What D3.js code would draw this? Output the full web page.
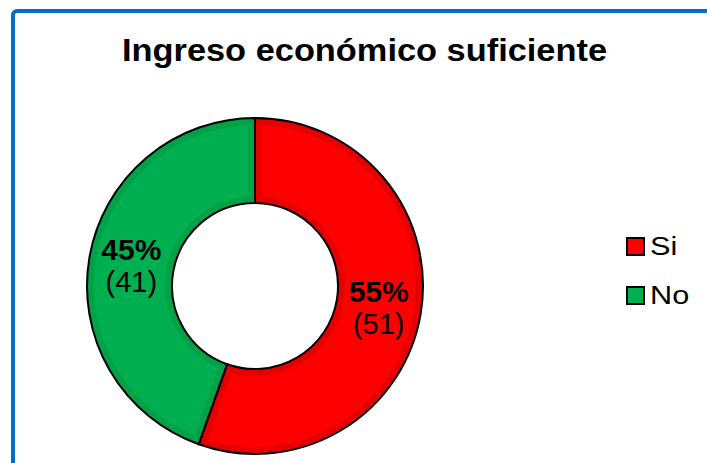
<!DOCTYPE html>
<html>
<head>
<meta charset="utf-8">
<script src="https://cdn.jsdelivr.net/npm/d3@7"></script>
<style>
  body { margin: 0; background: #fff; }
  svg { display: block; font-family: "Liberation Sans", Arial, sans-serif; }
</style>
</head>
<body>
<script>
// chart data
const categories = ["Si", "No"];
const counts = [51, 41];
const percents = ["55%", "45%"];
const fills = ["#ff0000", "#00b050"];
const edges = ["#e40000", "#00a147"];

const width = 707, height = 463;
const cx = 255, cy = 286;
const outerR = 168, innerR = 83;

const svg = d3.select("body").append("svg")
    .attr("width", width)
    .attr("height", height);

// blue frame (only top and left edges visible)
svg.append("rect")
    .attr("x", 13)
    .attr("y", 11)
    .attr("width", 760)
    .attr("height", 520)
    .attr("rx", 4)
    .attr("fill", "#fff")
    .attr("stroke", "#0070c0")
    .attr("stroke-width", 4);

svg.append("text")
    .attr("x", 122)
    .attr("y", 61)
    .attr("textLength", 485)
    .attr("lengthAdjust", "spacingAndGlyphs")
    .style("font-size", "31px")
    .style("font-weight", "bold")
    .text("Ingreso económico suficiente");

const data = categories.map((c, i) => ({ name: c, value: counts[i], pct: percents[i], fill: fills[i], edge: edges[i] }));

const pie = d3.pie().sort(null).value(d => d.value);
const arcs = pie(data);

const arc = d3.arc().innerRadius(innerR).outerRadius(outerR);
const innerArc = d3.arc().innerRadius(innerR + 7).outerRadius(outerR - 7)
    .padRadius(100).padAngle(0.14);

const g = svg.append("g").attr("transform", `translate(${cx},${cy})`);

// slice with darker rim
g.selectAll("path.slice")
    .data(arcs)
    .enter().append("path")
    .attr("class", "slice")
    .attr("d", arc)
    .attr("fill", d => d.data.edge);

g.selectAll("path.face")
    .data(arcs)
    .enter().append("path")
    .attr("class", "face")
    .attr("d", innerArc)
    .attr("fill", d => d.data.fill);

g.selectAll("path.outline")
    .data(arcs)
    .enter().append("path")
    .attr("class", "outline")
    .attr("d", arc)
    .attr("fill", "none")
    .attr("stroke", "#000")
    .attr("stroke-width", 2);

// labels on the centroid
const labels = g.selectAll("g.lbl")
    .data(arcs)
    .enter().append("g")
    .attr("class", "lbl")
    .attr("transform", d => `translate(${arc.centroid(d)})`);

labels.append("text")
    .attr("y", -5)
    .attr("text-anchor", "middle")
    .style("font-size", "30px")
    .style("font-weight", "bold")
    .text(d => d.data.pct);

labels.append("text")
    .attr("y", 27)
    .attr("text-anchor", "middle")
    .style("font-size", "29px")
    .text(d => "(" + d.data.value + ")");

// legend
const legend = svg.append("g").attr("transform", "translate(626,237)");
const item = legend.selectAll("g")
    .data(data)
    .enter().append("g")
    .attr("transform", (d, i) => `translate(0,${i * 49})`);

item.append("rect")
    .attr("x", 1)
    .attr("y", 1)
    .attr("width", 17)
    .attr("height", 17)
    .attr("fill", d => d.fill)
    .attr("stroke", "#000")
    .attr("stroke-width", 2);

item.append("text")
    .attr("transform", "translate(24,18) scale(1.18,1)")
    .style("font-size", "26px")
    .text(d => d.name);
</script>
</body>
</html>
